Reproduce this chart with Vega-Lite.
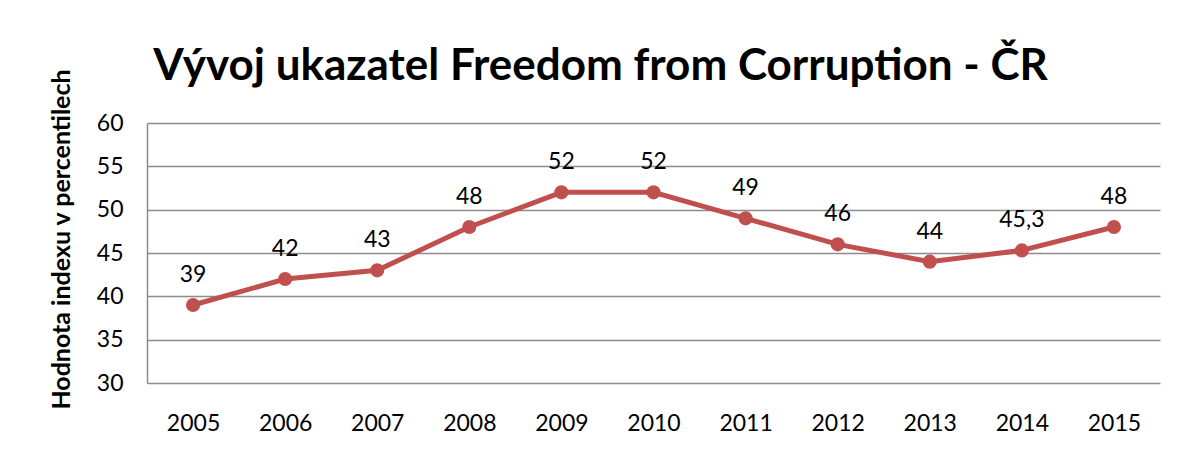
{
  "$schema": "https://vega.github.io/schema/vega-lite/v6.json",
  "width": 1013,
  "height": 260,
  "autosize": {"type": "none"},
  "padding": {"left": 147, "top": 123, "right": 19, "bottom": 82},
  "background": "white",
  "title": {
    "text": "Vývoj ukazatel Freedom from Corruption - ČR",
    "font": "Lato",
    "fontSize": 44,
    "fontWeight": "bold",
    "color": "#000000",
    "anchor": "middle",
    "dx": -53,
    "dy": 35,
    "offset": 14
  },
  "data": {
    "values": [
      {"rok": "2005", "hodnota": 39, "label": "39"},
      {"rok": "2006", "hodnota": 42, "label": "42"},
      {"rok": "2007", "hodnota": 43, "label": "43"},
      {"rok": "2008", "hodnota": 48, "label": "48"},
      {"rok": "2009", "hodnota": 52, "label": "52"},
      {"rok": "2010", "hodnota": 52, "label": "52"},
      {"rok": "2011", "hodnota": 49, "label": "49"},
      {"rok": "2012", "hodnota": 46, "label": "46"},
      {"rok": "2013", "hodnota": 44, "label": "44"},
      {"rok": "2014", "hodnota": 45.3, "label": "45,3"},
      {"rok": "2015", "hodnota": 48, "label": "48"}
    ]
  },
  "encoding": {
    "x": {
      "field": "rok",
      "type": "ordinal",
      "scale": {"type": "point", "padding": 0.5},
      "axis": {
        "title": null,
        "labelAngle": 0,
        "labelFont": "Lato",
        "labelFontSize": 23,
        "labelColor": "#000000",
        "labelPadding": 29,
        "domain": false,
        "ticks": false,
        "grid": false
      }
    },
    "y": {
      "field": "hodnota",
      "type": "quantitative",
      "scale": {"domain": [30, 60], "nice": false, "zero": false},
      "axis": {
        "title": "Hodnota indexu v percentilech",
        "titleFont": "Lato",
        "titleFontSize": 25,
        "titleFontWeight": "bold",
        "titleColor": "#000000",
        "titlePadding": 22,
        "titleY": 116,
        "values": [30, 35, 40, 45, 50, 55, 60],
        "labelFont": "Lato",
        "labelFontSize": 23,
        "labelColor": "#000000",
        "labelPadding": 24,
        "ticks": false,
        "domain": true,
        "domainColor": "#8c8c8c",
        "domainWidth": 1.5,
        "grid": true,
        "gridColor": "#8c8c8c",
        "gridWidth": 1.5
      }
    }
  },
  "layer": [
    {
      "mark": {"type": "line", "color": "#C0504D", "strokeWidth": 5}
    },
    {
      "mark": {"type": "point", "filled": true, "color": "#C0504D", "size": 200, "opacity": 1}
    },
    {
      "mark": {"type": "text", "font": "Lato", "fontSize": 23, "color": "#000000", "baseline": "alphabetic", "dy": -23},
      "encoding": {"text": {"field": "label"}}
    }
  ],
  "config": {"view": {"stroke": null}}
}
